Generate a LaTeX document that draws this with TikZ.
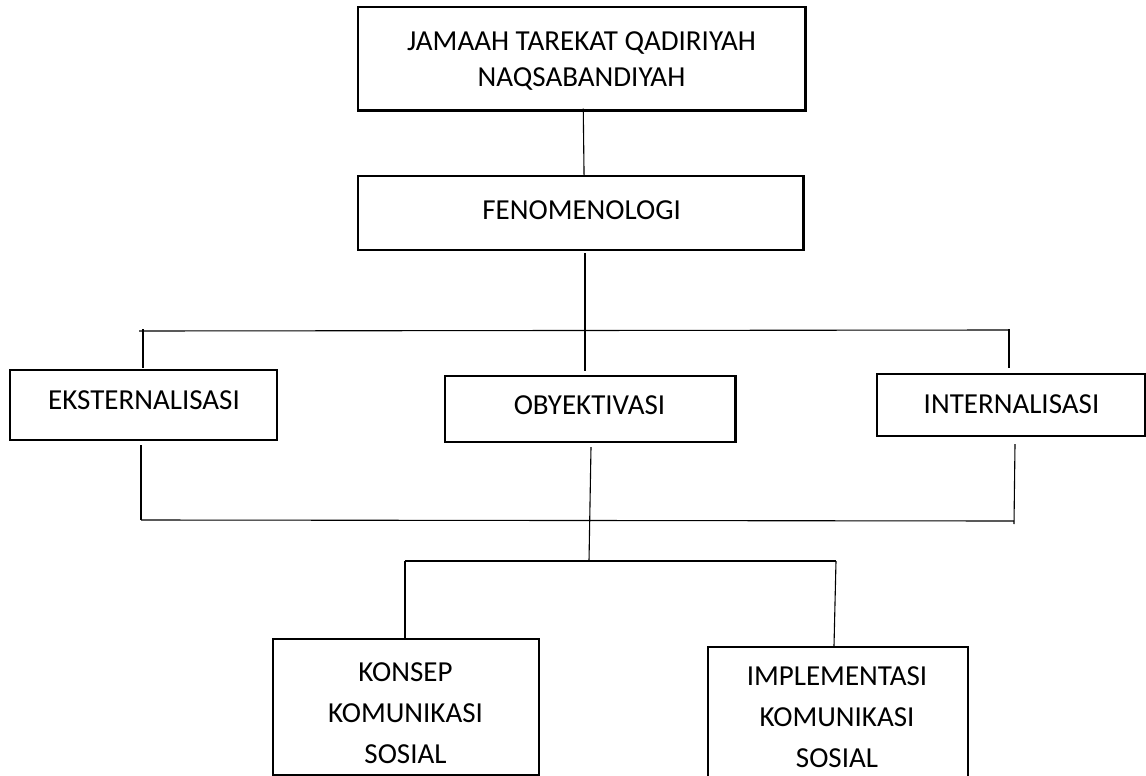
\documentclass[tikz,border=0pt]{standalone}
\usepackage{fontspec}
\setmainfont{Carlito}
\usetikzlibrary{calc}
\tikzset{
  box/.style={draw=black, line width=2.2pt, rectangle, inner sep=0pt},
  lbl/.style={inner sep=0pt, align=center, text=black, font=\fontsize{29}{36}\selectfont},
  lbltall/.style={lbl, font=\fontsize{29}{41}\selectfont},
  conn/.style={draw=black, line width=1.1pt},
}
\begin{document}
\begin{tikzpicture}[x=1pt, y=-1pt]
\useasboundingbox (0,0) rectangle (1146,776);
% boxes
\node[box, minimum width=447.5pt, minimum height=103.5pt] (top) at (581.75,58.75) {};
\node[box, minimum width=445.5pt, minimum height=74pt] (fen) at (580.75,213) {};
\node[box, minimum width=267pt, minimum height=70pt] (eks) at (143.5,405) {};
\node[box, minimum width=290.5pt, minimum height=66pt] (oby) at (590.25,409) {};
\node[box, minimum width=268pt, minimum height=62pt] (int) at (1011,405) {};
\node[box, minimum width=266.4pt, minimum height=136pt] (kon) at (405.8,707) {};
\node[box, minimum width=260pt, minimum height=135pt] (imp) at (838,714.5) {};
% texts
\node[lbl] (topT) at (581.5,61) {JAMAAH TAREKAT QADIRIYAH\\NAQSABANDIYAH};
\node[lbl] (fenT) at (581.7,210) {FENOMENOLOGI};
\node[lbl] (eksT) at (144,400) {EKSTERNALISASI};
\node[lbl] (obyT) at (589.5,405) {OBYEKTIVASI};
\node[lbl] (intT) at (1011.5,404) {INTERNALISASI};
\node[lbltall] (konT) at (405.5,713.5) {KONSEP\\KOMUNIKASI\\SOSIAL};
\node[lbltall] (impT) at (837,717.5) {IMPLEMENTASI\\KOMUNIKASI\\SOSIAL};
% bus coordinates
\coordinate (busAL) at (139,331);
\coordinate (busAR) at (1008,330);
\coordinate (busBL) at (141,520);
\coordinate (busBR) at (1014,521);
\coordinate (busCL) at (405,561);
\coordinate (busCR) at (836,561);
% connectors
\draw[conn] ([xshift=1.5pt,yshift=3pt]top.south) -- ([xshift=3.3pt]fen.north);
\draw[conn, line width=1.6pt] ([xshift=4.5pt,yshift=-2pt]fen.south) -- ([xshift=-5pt,yshift=4pt]oby.north);
\draw[conn] (busAL) -- (busAR);
\draw[conn] ([xshift=-0.5pt,yshift=1pt]eks.north) -- ([xshift=-0.5pt,yshift=2pt]eks.north |- busAL);
\draw[conn] ([xshift=-2pt,yshift=5pt]int.north) -- ([xshift=-2pt,yshift=1pt]int.north |- busAR);
\draw[conn] ([xshift=-2.5pt,yshift=-4pt]eks.south) -- ([xshift=-2.5pt]eks.south |- busBL);
\draw[conn] (busBL) -- (busBR);
\draw[conn] ([xshift=4pt,yshift=-7pt]int.south) -- ([xshift=3pt,yshift=-3pt]int.south |- busBR);
\draw[conn] ([xshift=0.75pt,yshift=-4pt]oby.south) -- ([xshift=-1.25pt]oby.south |- busCL);
\draw[conn] (busCL) -- (busCR);
\draw[conn] (busCL) -- ([xshift=-0.8pt]kon.north);
\draw[conn] (busCR) -- ([xshift=-4pt]imp.north);
\end{tikzpicture}
\end{document}
